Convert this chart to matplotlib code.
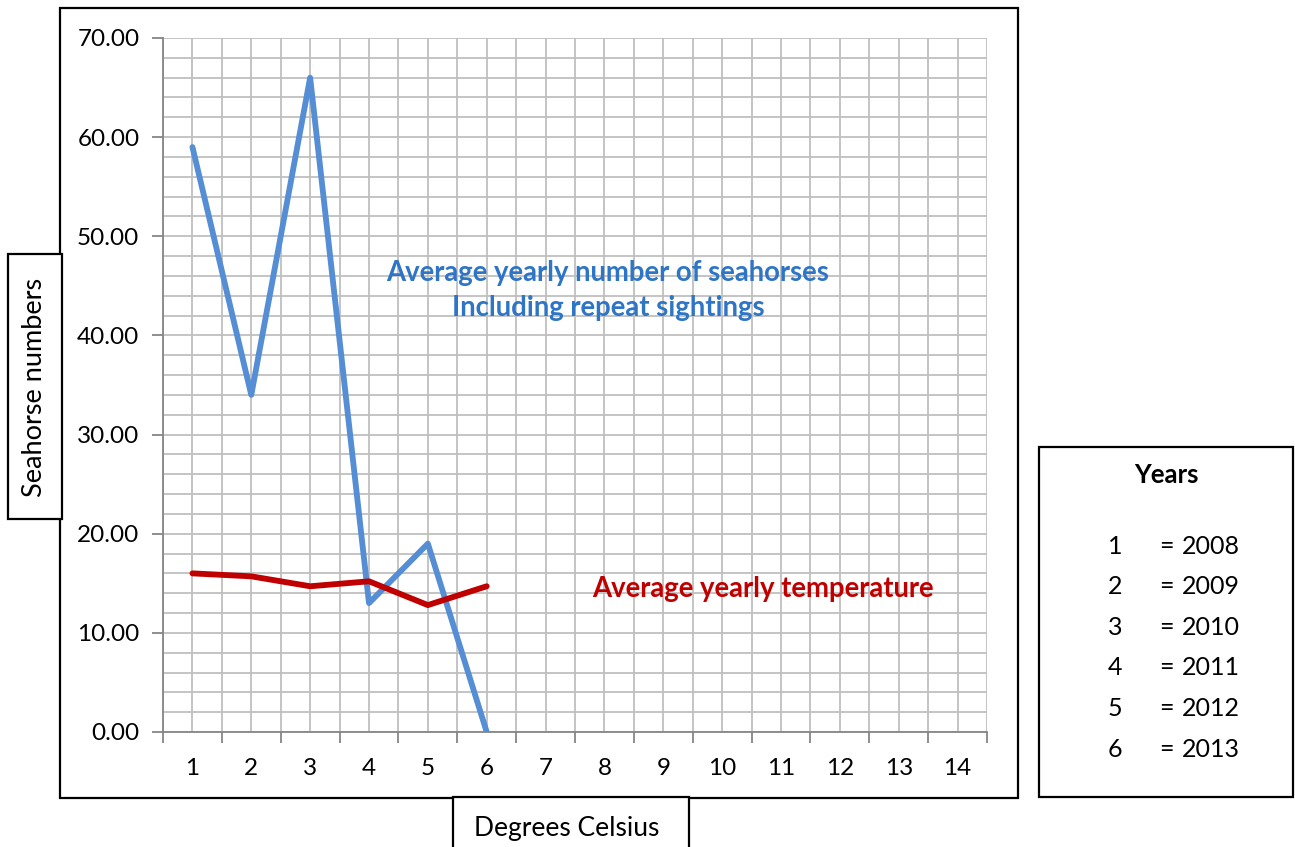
import matplotlib.pyplot as plt
from matplotlib.patches import Rectangle
from matplotlib.ticker import MultipleLocator

plt.rcParams['font.family'] = ['Lato', 'DejaVu Sans']

# data
years = [1, 2, 3, 4, 5, 6]
seahorses = [59, 34, 66, 13, 19, 0]
temperature = [16.0, 15.7, 14.7, 15.2, 12.8, 14.7]
categories = list(range(1, 15))
key_nums = ['1', '2', '3', '4', '5', '6']
key_years = ['2008', '2009', '2010', '2011', '2012', '2013']

W, H = 1295, 847
fig = plt.figure(figsize=(W / 100, H / 100), dpi=100)

ax = fig.add_axes([163 / W, 1 - 732 / H, (987 - 163) / W, (732 - 38) / H])

ax.plot(years, seahorses, color='#558ED5', lw=4.2, solid_capstyle='round', zorder=3)
ax.plot(years, temperature, color='#C00000', lw=4.2, solid_capstyle='round', zorder=3)

ax.set_xlim(0.5, 14.5)
ax.set_ylim(0, 70)
ax.set_xticks(categories)
ax.set_xticklabels([str(c) for c in categories])
ax.set_xticks([c + 0.5 for c in range(0, 15)], minor=True)
ax.yaxis.set_major_locator(MultipleLocator(10))
ax.yaxis.set_minor_locator(MultipleLocator(2))
ax.yaxis.set_major_formatter(lambda v, p: f'{v:.2f}')

ax.grid(True, which='both', color='#BFBFBF', lw=1.3)
ax.set_axisbelow(True)
ax.tick_params(axis='x', which='major', length=0, labelsize=17.5, pad=19)
ax.tick_params(axis='x', which='minor', length=8, color='#868686', width=1.3)
ax.tick_params(axis='y', which='major', length=8, color='#868686', width=1.3, labelsize=17.5, pad=9)
ax.tick_params(axis='y', which='minor', length=0)
for s in ['top', 'right']:
    ax.spines[s].set_visible(False)
for s in ['left', 'bottom']:
    ax.spines[s].set_color('#868686')
    ax.spines[s].set_linewidth(1.3)

fig.text(608 / W, 1 - 273 / H, 'Average yearly number of seahorses', color='#2E75C6',
         fontsize=19.8, fontweight='bold', ha='center', va='center')
fig.text(608 / W, 1 - 308 / H, 'Including repeat sightings', color='#2E75C6',
         fontsize=19.8, fontweight='bold', ha='center', va='center')
fig.text(763 / W, 1 - 589 / H, 'Average yearly temperature', color='#C00000',
         fontsize=19.8, fontweight='bold', ha='center', va='center')

# outer chart border
fig.patches.append(Rectangle((60 / W, 1 - 798 / H), (1018 - 60) / W, (798 - 8) / H,
                             transform=fig.transFigure, fill=False, ec='black', lw=1.6))

# y axis title box
fig.patches.append(Rectangle((8 / W, 1 - 519 / H), (62 - 8) / W, (519 - 254) / H,
                             transform=fig.transFigure, fill=True, fc='white', ec='black', lw=1.6))
fig.text(35 / W, 1 - 387 / H, 'Seahorse numbers', rotation=90, fontsize=19.5,
         ha='center', va='center')

# x axis title box
fig.patches.append(Rectangle((453 / W, 1 - 860 / H), (689 - 453) / W, (860 - 797) / H,
                             transform=fig.transFigure, fill=True, fc='white', ec='black', lw=1.6))
fig.text(567 / W, 1 - 828 / H, 'Degrees Celsius', fontsize=19, ha='center', va='center')

# years key box
fig.patches.append(Rectangle((1039 / W, 1 - 797 / H), (1293 - 1039) / W, (797 - 447) / H,
                             transform=fig.transFigure, fill=False, ec='black', lw=1.6))
fig.text(1166 / W, 1 - 475 / H, 'Years', fontsize=18.5, fontweight='bold', ha='center', va='center')
for i, (n, yr) in enumerate(zip(key_nums, key_years)):
    yy = 1 - (546 + i * 40.6) / H
    fig.text(1115 / W, yy, n, fontsize=18, ha='center', va='center')
    fig.text(1166 / W, yy, '=', fontsize=18, ha='center', va='center')
    fig.text(1211 / W, yy, yr, fontsize=18, ha='center', va='center')

fig.savefig('out.png', dpi=100)
